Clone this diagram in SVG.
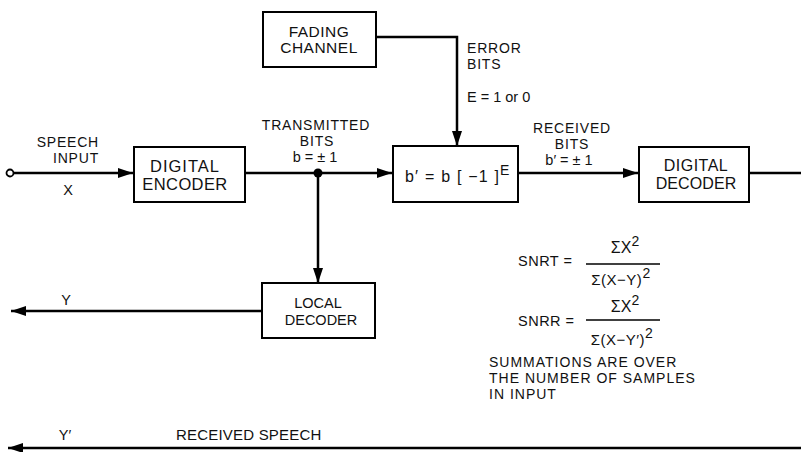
<svg xmlns="http://www.w3.org/2000/svg" width="801" height="452" viewBox="0 0 801 452">
<style>
  .box{fill:#fff;stroke:#000;stroke-width:2}
  .ln{fill:none;stroke:#000;stroke-width:2.5}
  .t{font-family:"Liberation Sans",Arial,sans-serif;fill:#111;text-anchor:middle}
  .st{text-anchor:start}
  .en{text-anchor:end}
  .lb{font-size:14px;letter-spacing:0.8px}
  .s{font-size:14.5px}
  .f{font-size:14.5px;letter-spacing:0.5px}
</style>
<defs>
  <marker id="ah" markerUnits="userSpaceOnUse" markerWidth="16" markerHeight="12" refX="15" refY="5" orient="auto">
    <path d="M0,0 L15,5 L0,10 Z" fill="#000"/>
  </marker>
</defs>
<rect width="801" height="452" fill="#fff"/>
<g id="connectors">
  <line class="ln" x1="14" y1="173" x2="133" y2="173" marker-end="url(#ah)"/>
  <line class="ln" x1="245" y1="173" x2="392" y2="173" marker-end="url(#ah)"/>
  <polyline class="ln" points="376,37 457,37 457,146" marker-end="url(#ah)"/>
  <line class="ln" x1="318" y1="173" x2="318" y2="283" marker-end="url(#ah)"/>
  <line class="ln" x1="519" y1="173" x2="638" y2="173" marker-end="url(#ah)"/>
  <line class="ln" x1="749" y1="173" x2="801" y2="173"/>
  <line class="ln" x1="262" y1="311" x2="11" y2="311" marker-end="url(#ah)"/>
  <line class="ln" x1="801" y1="448" x2="8" y2="448" marker-end="url(#ah)"/>
  <circle cx="10" cy="173" r="3.5" fill="#fff" stroke="#000" stroke-width="1.8"/>
  <circle cx="318" cy="173" r="4.5" fill="#000"/>
</g>
<g id="input-label">
  <text class="t lb en" x="99" y="147">SPEECH</text>
  <text class="t lb en" x="99" y="163">INPUT</text>
  <text class="t s" x="68" y="195">X</text>
</g>
<g id="encoder">
  <rect class="box" x="134" y="147" width="111" height="55"/>
  <text class="t" x="185" y="172" style="font-size:16.5px;letter-spacing:1px">DIGITAL</text>
  <text class="t" x="185" y="190" style="font-size:16.5px;letter-spacing:0.4px">ENCODER</text>
</g>
<g id="fading">
  <rect class="box" x="263" y="12" width="113" height="55"/>
  <text class="t" x="319" y="37" style="font-size:15.5px;letter-spacing:0.5px">FADING</text>
  <text class="t" x="319" y="53" style="font-size:15.5px;letter-spacing:0.5px">CHANNEL</text>
</g>
<g id="error-label">
  <text class="t lb st" x="467" y="53">ERROR</text>
  <text class="t lb st" x="467" y="69">BITS</text>
  <text class="t s st" x="467" y="102">E = 1 or 0</text>
</g>
<g id="transmitted-label">
  <text class="t lb" x="316" y="130">TRANSMITTED</text>
  <text class="t lb" x="317" y="146">BITS</text>
  <text class="t s" x="315" y="162">b = ± 1</text>
</g>
<g id="error-box">
  <rect class="box" x="393" y="146" width="125" height="56"/>
  <text class="t st" x="405" y="182" style="font-size:16px;letter-spacing:1.2px">b′ = b [ −1 ]<tspan dy="-7" style="font-size:14px">E</tspan></text>
</g>
<g id="received-label">
  <text class="t lb" x="572" y="133">RECEIVED</text>
  <text class="t lb" x="572" y="149">BITS</text>
  <text class="t s" x="569" y="165">b′ = ± 1</text>
</g>
<g id="decoder">
  <rect class="box" x="639" y="147" width="110" height="55"/>
  <text class="t" x="696" y="171" style="font-size:16px;letter-spacing:0.5px">DIGITAL</text>
  <text class="t" x="696" y="189" style="font-size:16px;letter-spacing:0.1px">DECODER</text>
</g>
<g id="local-decoder">
  <rect class="box" x="262" y="283" width="113" height="55"/>
  <text class="t s" x="318" y="308">LOCAL</text>
  <text class="t s" x="321" y="325">DECODER</text>
  <text class="t s" x="66" y="305">Y</text>
</g>
<g id="formulas">
  <text class="t f st" x="518" y="266">SNRT =</text>
  <text class="t" x="625" y="253" style="font-size:16px">ΣX<tspan dy="-7" style="font-size:14px">2</tspan></text>
  <line x1="586" y1="264" x2="660" y2="264" stroke="#000" stroke-width="1.3"/>
  <text class="t" x="621" y="285" style="font-size:15px;letter-spacing:0.5px">Σ(X−Y)<tspan dy="-7" style="font-size:14px">2</tspan></text>
  <text class="t f st" x="518" y="326">SNRR =</text>
  <text class="t" x="625" y="312" style="font-size:16px">ΣX<tspan dy="-7" style="font-size:14px">2</tspan></text>
  <line x1="586" y1="320" x2="660" y2="320" stroke="#000" stroke-width="1.3"/>
  <text class="t" x="622" y="345" style="font-size:15px;letter-spacing:0.5px">Σ(X−Y′)<tspan dy="-7" style="font-size:14px">2</tspan></text>
  <text class="t st" x="489" y="367" style="font-size:14px;letter-spacing:1px">SUMMATIONS ARE OVER</text>
  <text class="t st" x="489" y="383" style="font-size:14px;letter-spacing:1px">THE NUMBER OF SAMPLES</text>
  <text class="t st" x="489" y="399" style="font-size:14px;letter-spacing:1px">IN INPUT</text>
</g>
<g id="received-speech">
  <text class="t s" x="65" y="440">Y′</text>
  <text class="t st" x="176" y="440" style="font-size:15px;letter-spacing:0.2px">RECEIVED SPEECH</text>
</g>
</svg>
